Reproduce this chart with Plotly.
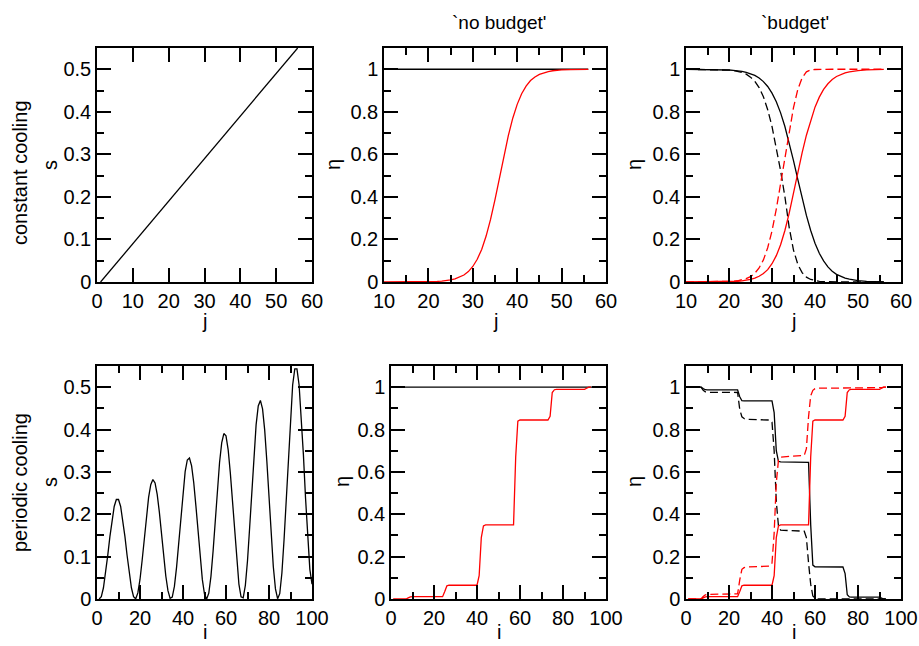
import plotly.graph_objects as go

# ---------------- data ----------------
# top-left: constant cooling, s vs j
j_const = [1, 56]
s_const = [0.0, 0.55]

# top middle / right: eta vs j
j_pts = [10, 15, 18, 20, 21, 22, 23, 24, 25, 26, 27, 28, 29, 30, 31, 32, 33, 34, 35,
         36, 37, 38, 39, 40, 41, 42, 43, 44, 45, 46, 47, 48, 49, 50, 52, 54, 56]
eta_nb_black = [1.0] * len(j_pts)
eta_nb_red = [0.0, 0.0002, 0.0005, 0.0012, 0.0019, 0.0028, 0.0042, 0.0064, 0.0097, 0.0146,
              0.022, 0.033, 0.049, 0.073, 0.107, 0.153, 0.216, 0.294, 0.387, 0.49, 0.593,
              0.688, 0.77, 0.835, 0.885, 0.921, 0.947, 0.964, 0.976, 0.984, 0.989, 0.993,
              0.9954, 0.997, 0.9986, 0.9994, 0.9998]
eta_b_black = [0.9999, 0.9994, 0.998, 0.9965, 0.995, 0.993, 0.990, 0.985, 0.979, 0.971,
               0.959, 0.942, 0.919, 0.888, 0.847, 0.795, 0.731, 0.655, 0.571, 0.482, 0.394,
               0.313, 0.242, 0.182, 0.135, 0.099, 0.071, 0.051, 0.036, 0.026, 0.018, 0.013,
               0.009, 0.006, 0.003, 0.0015, 0.0007]
eta_b_red = [0.0, 0.0002, 0.0007, 0.0016, 0.0024, 0.0036, 0.0054, 0.008, 0.012, 0.018,
             0.027, 0.040, 0.058, 0.086, 0.124, 0.175, 0.242, 0.324, 0.419, 0.518, 0.607,
             0.69, 0.762, 0.822, 0.869, 0.905, 0.932, 0.952, 0.966, 0.976, 0.983, 0.988,
             0.992, 0.994, 0.997, 0.9987, 0.9994]
eta_b_black_dash = [1.0, 0.9996, 0.9984, 0.996, 0.994, 0.990, 0.985, 0.977, 0.963, 0.944,
                    0.914, 0.871, 0.810, 0.731, 0.633, 0.523, 0.401, 0.256, 0.15, 0.083,
                    0.044, 0.023, 0.012, 0.006, 0.003, 0.0015, 0.0008, 0.0004, 0.0, 0.0,
                    0.0, 0.0, 0.0, 0.0, 0.0, 0.0, 0.0]
eta_b_red_dash = [0.0, 0.0002, 0.0008, 0.0021, 0.0035, 0.0058, 0.0095, 0.0155, 0.025, 0.041,
                  0.066, 0.104, 0.161, 0.24, 0.343, 0.463, 0.59, 0.71, 0.82, 0.905, 0.96,
                  0.988, 0.997, 0.999, 1.0, 1.0, 1.0, 1.0, 1.0, 1.0, 1.0, 1.0, 1.0, 1.0,
                  1.0, 1.0, 1.0]

# bottom-left: periodic cooling, s vs i (i = 1..100)
i_all = list(range(1, 101))
s_periodic = [0.0, 0.0054, 0.0265, 0.0605, 0.1028, 0.1474, 0.1878, 0.2185, 0.2349, 0.2349,
              0.2185, 0.1878, 0.1474, 0.1028, 0.0605, 0.0265, 0.0054,
              0.0004, 0.0143, 0.0461, 0.0914, 0.1437, 0.1956, 0.2398, 0.2699, 0.2819,
              0.2740, 0.2471, 0.2051, 0.1545, 0.1011, 0.0543, 0.0196, 0.0016,
              0.0043, 0.0297, 0.0746, 0.1325, 0.1953, 0.2541, 0.3006, 0.3282, 0.3329,
              0.3141, 0.2745, 0.2199, 0.1576, 0.0966, 0.0456, 0.0118, 0.0,
              0.0139, 0.0535, 0.1133, 0.1848, 0.2580, 0.3222, 0.3687, 0.3906, 0.3852,
              0.3528, 0.2984, 0.2294, 0.1558, 0.0878, 0.0352, 0.0050,
              0.0027, 0.0322, 0.0903, 0.1688, 0.2567, 0.3416, 0.4109, 0.4556, 0.4688,
              0.4489, 0.3987, 0.3253, 0.2390, 0.1519, 0.0767, 0.0238, 0.0007,
              0.0125, 0.0612, 0.1400, 0.2378, 0.3408, 0.4341, 0.5052, 0.5431, 0.5432,
              0.5052, 0.4341, 0.3408, 0.2378, 0.1400, 0.0700, 0.035]

# bottom middle / right: eta vs i (step-like)
i_line = [1, 100]
eta_line = [1.0, 1.0]

i_red = [1, 7, 8, 9, 10, 24, 25, 26, 27, 40, 41, 42, 43, 44, 57, 58, 59, 60, 73, 74, 75,
         76, 77, 90, 91, 92, 93]
eta_red = [0.0, 0.0, 0.005, 0.010, 0.011, 0.011, 0.035, 0.062, 0.065, 0.065, 0.11, 0.29,
           0.345, 0.35, 0.35, 0.67, 0.84, 0.845, 0.845, 0.862, 0.975, 0.988, 0.99, 0.99,
           0.995, 1.0, 1.0]

i_black = [1, 7, 8, 9, 10, 24, 25, 26, 27, 40, 41, 42, 43, 44, 57, 58, 59, 60, 73, 74, 75,
           76, 77, 90, 91, 92, 93]
eta_black = [1.0, 1.0, 0.993, 0.988, 0.987, 0.987, 0.955, 0.936, 0.935, 0.935, 0.88, 0.70,
             0.65, 0.647, 0.645, 0.35, 0.16, 0.152, 0.151, 0.12, 0.02, 0.01, 0.009, 0.009,
             0.004, 0.0, 0.0]

i_black_dash = [1, 7, 8, 9, 10, 24, 25, 26, 27, 28, 39, 40, 41, 42, 43, 44, 55, 56, 57, 58,
                59, 60, 61, 93]
eta_black_dash = [1.0, 1.0, 0.985, 0.978, 0.976, 0.975, 0.895, 0.86, 0.852, 0.848, 0.845,
                  0.835, 0.70, 0.46, 0.345, 0.325, 0.32, 0.29, 0.17, 0.07, 0.014, 0.004,
                  0.0, 0.0]

i_red_dash = [1, 7, 8, 9, 10, 24, 25, 26, 27, 28, 39, 40, 41, 42, 43, 44, 55, 56, 57, 58,
              59, 60, 61, 90, 91, 92, 93]
eta_red_dash = [0.0, 0.0, 0.012, 0.02, 0.022, 0.024, 0.09, 0.14, 0.148, 0.151, 0.155, 0.17,
                0.31, 0.55, 0.655, 0.67, 0.678, 0.71, 0.86, 0.96, 0.985, 0.993, 0.995,
                0.996, 0.998, 1.0, 1.0]

# ---------------- figure ----------------
W, H = 919, 646
FONT = "Liberation Sans, Arial, Helvetica, sans-serif"
BLACK = "#000000"
RED = "#ff0000"
LW = 1.3
DASH = "8px,4px"

fig = go.Figure()


def add(x, y, ax, color, dash=None):
    fig.add_trace(go.Scatter(
        x=x, y=y, mode="lines", xaxis="x" + ax, yaxis="y" + ax,
        line=dict(color=color, width=LW, dash=dash), showlegend=False,
        hoverinfo="skip"))


add(j_const, s_const, "1", BLACK)
add(j_pts, eta_nb_black, "2", BLACK)
add(j_pts, eta_nb_red, "2", RED)
add(j_pts, eta_b_black, "3", BLACK)
add(j_pts, eta_b_black_dash, "3", BLACK, DASH)
add(j_pts, eta_b_red_dash, "3", RED, DASH)
add(j_pts, eta_b_red, "3", RED)
add(i_all, s_periodic, "4", BLACK)
add(i_line, eta_line, "5", BLACK)
add(i_red, eta_red, "5", RED)
add(i_black, eta_black, "6", BLACK)
add(i_black_dash, eta_black_dash, "6", BLACK, DASH)
add(i_red_dash, eta_red_dash, "6", RED, DASH)
add(i_red, eta_red, "6", RED)


def px_x(p):
    return p / W


def px_y(p):
    return 1 - p / H


def axis(domain, rng, dtick, minor_dtick, anchor):
    d = dict(
        domain=domain, range=rng, dtick=dtick, tick0=0, anchor=anchor,
        showline=True, linecolor=BLACK, linewidth=1.5, mirror="ticks",
        ticks="inside", ticklen=14, tickwidth=1.5, tickcolor=BLACK,
        showgrid=False, zeroline=False, automargin=False,
        tickfont=dict(family=FONT, size=20, color=BLACK),
    )
    if minor_dtick:
        d["minor"] = dict(ticks="inside", ticklen=7, tickwidth=1.5, tickcolor=BLACK,
                          dtick=minor_dtick, tick0=0, showgrid=False)
    return d


cols_top = [(97, 312), (384, 606), (686, 901)]
cols_bot = [(97, 312), (391, 606), (686, 901)]
row_top = (282, 48)
row_bot = (599, 366)

layout_axes = {}
specs = [
    ("1", cols_top[0], row_top, [0, 60], 10, None, [0, 0.55], 0.1, 0.05),
    ("2", cols_top[1], row_top, [10, 60], 10, 5, [0, 1.1], 0.2, 0.1),
    ("3", cols_top[2], row_top, [10, 60], 10, 5, [0, 1.1], 0.2, 0.1),
    ("4", cols_bot[0], row_bot, [0, 100], 20, 10, [0, 0.55], 0.1, 0.05),
    ("5", cols_bot[1], row_bot, [0, 100], 20, 10, [0, 1.1], 0.2, 0.1),
    ("6", cols_bot[2], row_bot, [0, 100], 20, 10, [0, 1.1], 0.2, 0.1),
]
for n, (x0, x1), (yb, yt), xr, xd, xm, yr, yd, ym in specs:
    key = "" if n == "1" else n
    layout_axes["xaxis" + key] = axis([px_x(x0), px_x(x1)], xr, xd, xm, "y" + n)
    layout_axes["yaxis" + key] = axis([px_y(yb), px_y(yt)], yr, yd, ym, "x" + n)

annotations = []


def label(text, x, y, angle=0, size=20, yanchor="middle"):
    annotations.append(dict(
        text=text, x=px_x(x), y=px_y(y), xref="paper", yref="paper",
        xanchor="center", yanchor=yanchor, showarrow=False, textangle=angle,
        font=dict(family=FONT, size=size, color=BLACK)))


label("`no budget'", 499, 23, size=19)
label("`budget'", 795, 23, size=19)
label("constant cooling", 20, 173, -90)
label("periodic cooling", 20, 483, -90)
label("s", 50, 165, -90)
label("η", 333, 165, -90)
label("η", 634, 165, -90)
label("s", 50, 482, -90)
label("η", 342, 482, -90)
label("η", 634, 482, -90)
label("j", 204.5, 321)
label("j", 495, 321)
label("j", 793.5, 321)
label("i", 204.5, 645, yanchor="bottom")
label("i", 498.5, 645, yanchor="bottom")
label("i", 793.5, 645, yanchor="bottom")

fig.update_layout(
    autosize=True, margin=dict(l=0, r=0, t=0, b=0, pad=0, autoexpand=False),
    paper_bgcolor="white", plot_bgcolor="white",
    annotations=annotations, **layout_axes)

post = """
(function(){
  var gd = document.getElementById('{plot_id}');
  document.documentElement.style.margin='0';
  document.documentElement.style.padding='0';
  document.documentElement.style.overflow='hidden';
  document.body.style.margin='0';
  document.body.style.padding='0';
  document.body.style.overflow='hidden';
  gd.style.width='100vw';
  gd.style.height='100vh';
  Plotly.Plots.resize(gd);
})();
"""

fig.write_html(
    "out.html",
    default_width="100vw", default_height="100vh",
    config={"displayModeBar": False, "responsive": True},
    post_script=post)
